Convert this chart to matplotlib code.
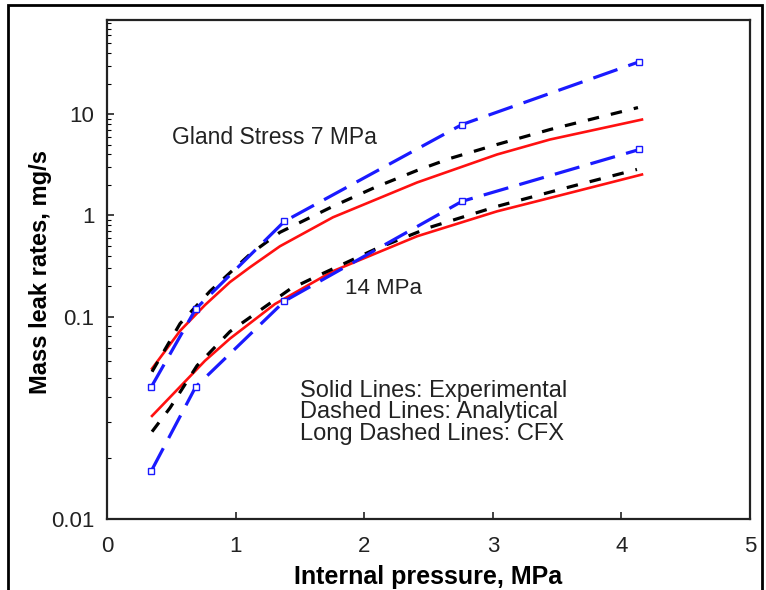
import numpy as np
import matplotlib
matplotlib.use("Agg")
import matplotlib.pyplot as plt
from matplotlib.patches import Rectangle
from matplotlib.ticker import FixedLocator, FixedFormatter, NullFormatter

plt.rcParams['font.family'] = ['Liberation Sans', 'DejaVu Sans']

# ---- data ----
# CFX runs (long dashed, square markers)
cfx_p = [0.345, 0.69, 1.38, 2.76, 4.14]
cfx_7 = [0.045, 0.119, 0.873, 7.88, 32.9]
cfx_14 = [0.0173, 0.045, 0.142, 1.374, 4.47]

# experimental (solid red)
exp7_p = [0.35, 0.568, 0.762, 0.956, 1.112, 1.345, 1.757, 2.411, 3.033, 3.445, 4.16]
exp7_m = [0.0553, 0.085, 0.13, 0.219, 0.307, 0.495, 0.956, 2.11, 3.99, 5.61, 8.83]
exp14_p = [0.35, 0.568, 0.762, 0.956, 1.306, 1.757, 2.411, 3.033, 3.523, 4.16]
exp14_m = [0.0323, 0.045, 0.0605, 0.0778, 0.133, 0.281, 0.621, 1.095, 1.574, 2.53]

# analytical (short dashed black)
ana7_p = [0.35, 0.568, 0.801, 1.112, 1.345, 1.757, 2.084, 2.411, 2.667, 3.033, 3.445, 4.129]
ana7_m = [0.0534, 0.0923, 0.178, 0.413, 0.68, 1.227, 1.888, 2.775, 3.645, 5.01, 7.04, 11.6]
ana14_p = [0.35, 0.49, 0.70, 0.956, 1.423, 1.633, 2.084, 2.512, 3.033, 3.523, 4.121]
ana14_m = [0.027, 0.0354, 0.0572, 0.0843, 0.1866, 0.2506, 0.462, 0.762, 1.226, 1.803, 2.84]

ytick_vals = [0.01, 0.1, 1, 10]
ytick_labels = ["0.01", "0.1", "1", "10"]
xtick_vals = [0, 1, 2, 3, 4, 5]


# the original log axis has a stretched bottom decade (0.01-0.1 is twice as tall)
def fwd(y):
    l = np.log10(np.clip(y, 1e-6, None))
    return np.where(l >= -1, l, -1 + 2 * (l + 1))


def inv(t):
    t = np.asarray(t, dtype=float)
    return np.where(t >= -1, 10.0 ** t, 10.0 ** (-1 + (t + 1) / 2))


fig = plt.figure(figsize=(7.66, 5.90), dpi=100)
ax = fig.add_axes([0.1397, 0.1203, 0.8394, 0.8458])
ax.set_yscale('function', functions=(fwd, inv))

red = '#ff1010'
blue = '#1a1aff'

ax.plot(exp7_p, exp7_m, color=red, lw=1.9)
ax.plot(exp14_p, exp14_m, color=red, lw=1.9)
ax.plot(ana7_p, ana7_m, color='black', lw=2.3, dashes=(3.6, 3.8))
ax.plot(ana14_p, ana14_m, color='black', lw=2.3, dashes=(3.6, 3.8))
ax.plot(cfx_p, cfx_7, color=blue, lw=2.3, dashes=(8.0, 3.6),
        marker='s', ms=5, mfc='white', mec=blue, mew=1)
ax.plot(cfx_p, cfx_14, color=blue, lw=2.3, dashes=(8.0, 3.6),
        marker='s', ms=5, mfc='white', mec=blue, mew=1)

ax.set_xlim(0, 5)
ax.set_ylim(0.01, 85)

ax.xaxis.set_major_locator(FixedLocator(xtick_vals))
ax.yaxis.set_major_locator(FixedLocator(ytick_vals))
ax.yaxis.set_major_formatter(FixedFormatter(ytick_labels))
minors = [m * d for d in [0.01, 0.1, 1, 10] for m in range(2, 10) if m * d < 85]
ax.yaxis.set_minor_locator(FixedLocator(minors))
ax.yaxis.set_minor_formatter(NullFormatter())

ax.tick_params(axis='both', which='major', direction='in', length=5, width=1.2,
               labelsize=16, colors='#222222')
ax.tick_params(axis='x', which='major', pad=12)
ax.tick_params(axis='y', which='major', pad=9)
ax.tick_params(axis='y', which='minor', direction='in', length=3, width=0.8)
for s in ax.spines.values():
    s.set_linewidth(1.6)
    s.set_color('#222222')

ax.set_xlabel("Internal pressure, MPa", fontsize=18, fontweight='bold')
ax.set_ylabel("Mass leak rates, mg/s", fontsize=17, fontweight='bold')
ax.xaxis.set_label_coords(0.5, -0.092)
ax.yaxis.set_label_coords(-0.085, 0.495)

ax.text(0.505, 5.87, "Gland Stress 7 MPa", fontsize=16.5, va='center', ha='left', color='#222222')
ax.text(1.85, 0.191, "14 MPa", fontsize=16, va='center', ha='left', color='#222222')
ax.text(1.50, 0.0431, "Solid Lines: Experimental", fontsize=17, va='center', ha='left', color='#222222')
ax.text(1.50, 0.0339, "Dashed Lines: Analytical", fontsize=17, va='center', ha='left', color='#222222')
ax.text(1.50, 0.0264, "Long Dashed Lines: CFX", fontsize=17, va='center', ha='left', color='#222222')

# outer frame of the scanned figure
fig.patches.append(Rectangle((8 / 766, -0.05), (762 - 8) / 766, 1.05 - 5 / 590,
                             transform=fig.transFigure, fill=False,
                             edgecolor='black', lw=2))

fig.savefig("out.png", dpi=100)
